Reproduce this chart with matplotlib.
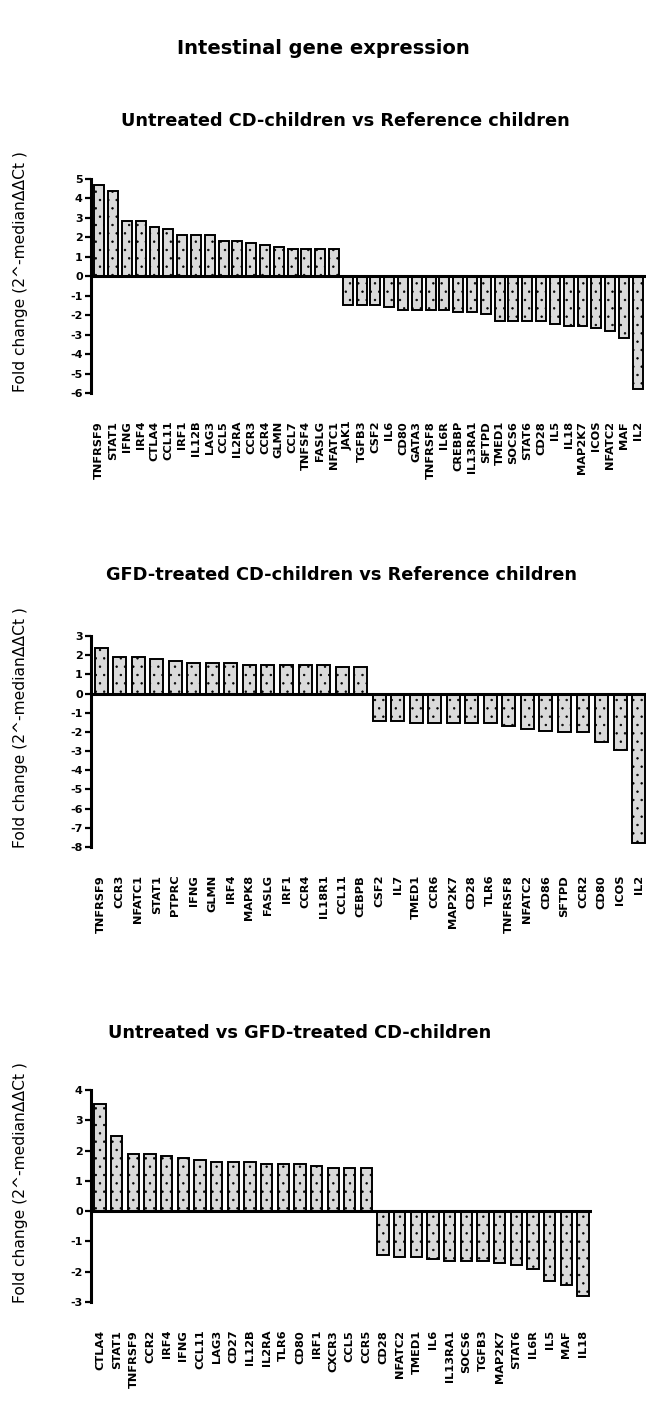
import matplotlib
matplotlib.use("Agg")
import matplotlib.pyplot as plt
import numpy as np

plt.rcParams["font.family"] = ["Liberation Sans", "DejaVu Sans"]
plt.rcParams["axes.unicode_minus"] = False
plt.rcParams["hatch.linewidth"] = 0.5

# UNTREATED CD-CHILDREN vs REFERENCE CHILDREN
genes_1 = ["TNFRSF9", "STAT1", "IFNG", "IRF4", "CTLA4", "CCL11", "IRF1", "IL12B",
           "LAG3", "CCL5", "IL2RA", "CCR3", "CCR4", "GLMN", "CCL7", "TNFSF4",
           "FASLG", "NFATC1", "JAK1", "TGFB3", "CSF2", "IL6", "CD80", "GATA3",
           "TNFRSF8", "IL6R", "CREBBP", "IL13RA1", "SFTPD", "TMED1", "SOCS6",
           "STAT6", "CD28", "IL5", "IL18", "MAP2K7", "ICOS", "NFATC2", "MAF", "IL2"]
fold_1 = [4.67, 4.37, 2.86, 2.86, 2.53, 2.43, 2.1, 2.1, 2.1, 1.8, 1.8, 1.7,
          1.6, 1.5, 1.4, 1.4, 1.4, 1.4,
          -1.5, -1.5, -1.5, -1.6, -1.75, -1.75, -1.75, -1.75, -1.85, -1.85,
          -1.95, -2.3, -2.3, -2.3, -2.3, -2.45, -2.55, -2.55, -2.65, -2.8,
          -3.15, -5.8]

# GFD-TREATED CD-CHILDREN vs REFERENCE CHILDREN
genes_2 = ["TNFRSF9", "CCR3", "NFATC1", "STAT1", "PTPRC", "IFNG", "GLMN", "IRF4",
           "MAPK8", "FASLG", "IRF1", "CCR4", "IL18R1", "CCL11", "CEBPB",
           "CSF2", "IL7", "TMED1", "CCR6", "MAP2K7", "CD28", "TLR6", "TNFRSF8",
           "NFATC2", "CD86", "SFTPD", "CCR2", "CD80", "ICOS", "IL2"]
fold_2 = [2.4, 1.9, 1.9, 1.8, 1.68, 1.57, 1.57, 1.57, 1.49, 1.49, 1.49, 1.49,
          1.49, 1.38, 1.38,
          -1.41, -1.41, -1.52, -1.52, -1.52, -1.52, -1.52, -1.67, -1.83,
          -1.93, -2.03, -2.03, -2.53, -2.93, -7.8]

# UNTREATED vs GFD-TREATED CD-CHILDREN
genes_3 = ["CTLA4", "STAT1", "TNFRSF9", "CCR2", "IRF4", "IFNG", "CCL11", "LAG3",
           "CD27", "IL12B", "IL2RA", "TLR6", "CD80", "IRF1", "CXCR3", "CCL5",
           "CCR5", "CD28", "NFATC2", "TMED1", "IL6", "IL13RA1", "SOCS6", "TGFB3",
           "MAP2K7", "STAT6", "IL6R", "IL5", "MAF", "IL18"]
fold_3 = [3.53, 2.48, 1.89, 1.89, 1.82, 1.75, 1.68, 1.61, 1.61, 1.61, 1.55,
          1.55, 1.55, 1.49, 1.41, 1.41, 1.41,
          -1.46, -1.51, -1.51, -1.59, -1.64, -1.64, -1.64, -1.71, -1.79,
          -1.92, -2.3, -2.45, -2.8]

titles = ["Untreated CD-children vs Reference children",
          "GFD-treated CD-children vs Reference children",
          "Untreated vs GFD-treated CD-children"]
y_ranges = [(-6, 5), (-8, 3), (-3, 4)]

W, H = 646, 1407
fig = plt.figure(figsize=(W / 100, H / 100), dpi=100)

fig.text(323 / W, 1 - 48 / H, "Intestinal gene expression", ha="center",
         va="center", fontsize=14, fontweight="bold", family="DejaVu Sans")

# axes boxes in pixels: left, top, right, bottom
boxes = [(91, 179, 646, 393), (91, 636, 646, 847), (91, 1090, 592, 1302)]
title_pos = [(345, 121), (341, 575), (300, 1033)]
ylabel_y = [272, 728, 1183]
xlims = [(-0.6, 39.6), (-0.55, 29.4), (-0.55, 29.55)]
widths = [0.72, 0.7, 0.68]


def plot_panel(genes, fold, box, title, tpos, ly, ylim, xlim, width):
    l, t, r, b = box
    ax = fig.add_axes([l / W, 1 - b / H, (r - l) / W, (b - t) / H])
    x = np.arange(len(genes))
    ax.bar(x, fold, width=width, color="#dadada", edgecolor="black",
           linewidth=1.4, hatch="..")
    ax.axhline(0, color="black", linewidth=2.2)
    ax.set_xlim(*xlim)
    ax.set_ylim(*ylim)
    ax.set_yticks(range(ylim[0], ylim[1] + 1))
    ax.set_yticklabels([str(v) for v in range(ylim[0], ylim[1] + 1)],
                       fontsize=8, fontweight="bold", family="DejaVu Sans")
    ax.set_xticks(x)
    ax.set_xticklabels(genes, rotation=90, fontsize=8.2, fontweight="bold",
                       va="top", family="DejaVu Sans")
    ax.tick_params(axis="x", length=0, pad=20)
    ax.tick_params(axis="y", direction="out", length=4, width=1.6, pad=2)
    for side in ["top", "right", "bottom"]:
        ax.spines[side].set_visible(False)
    ax.spines["left"].set_linewidth(2.2)
    fig.text(tpos[0] / W, 1 - tpos[1] / H, title, ha="center", va="center",
             fontsize=12.8, fontweight="bold", family="DejaVu Sans")
    fig.text(21 / W, 1 - ly / H, "Fold change (2^-medianΔΔCt )",
             rotation=90, ha="center", va="center", fontsize=11.2,
             family="DejaVu Sans")
    return ax


for i, (g, f) in enumerate([(genes_1, fold_1), (genes_2, fold_2),
                            (genes_3, fold_3)]):
    plot_panel(g, f, boxes[i], titles[i], title_pos[i], ylabel_y[i],
               y_ranges[i], xlims[i], widths[i])

fig.savefig("out.png", dpi=100)
